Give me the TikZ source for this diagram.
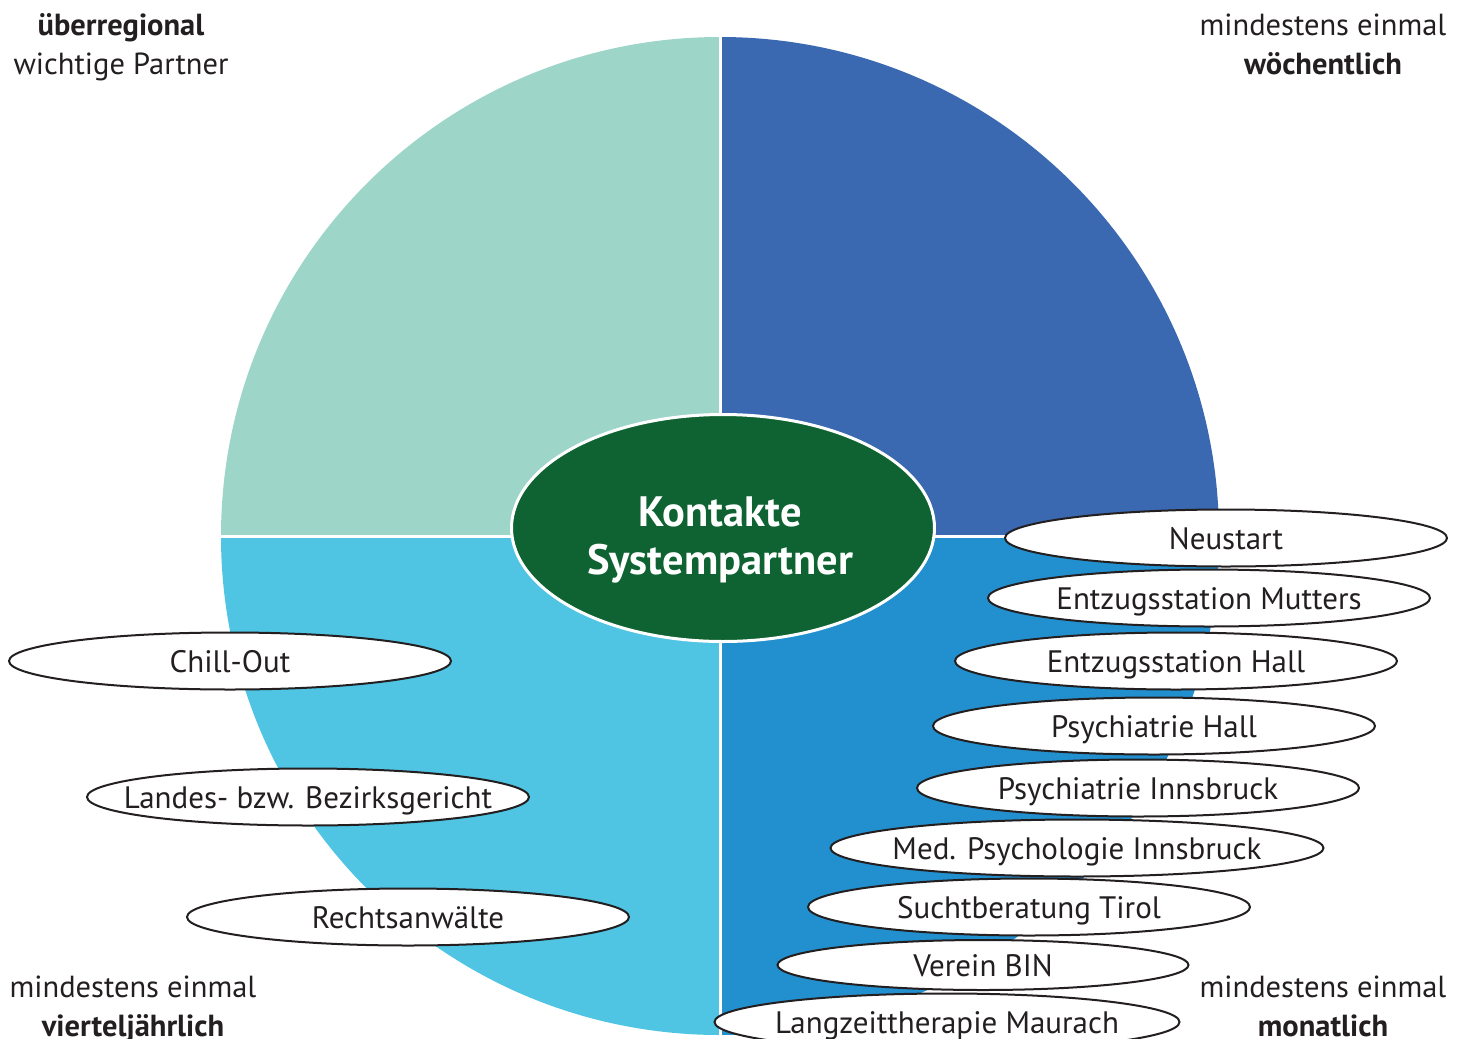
\documentclass[tikz,border=0pt]{standalone}
\usepackage{fontspec}
\setmainfont{PT Sans}
\usetikzlibrary{shapes.geometric}
\definecolor{qtl}{HTML}{9ED5C9}
\definecolor{qtr}{HTML}{3A69B1}
\definecolor{qbr}{HTML}{2290CE}
\definecolor{qbl}{HTML}{4FC4E3}
\definecolor{kgreen}{HTML}{0F6332}
\definecolor{ink}{HTML}{231F20}
\tikzset{
  partner/.style={ellipse, draw=ink, fill=white, line width=2pt, inner sep=0pt,
    minimum width=442pt, minimum height=57pt, text=ink,
    text height=26pt, text depth=4pt,
    font=\fontsize{31}{34}\selectfont},
  corner/.style={align=center, text=ink, font=\fontsize{30.5}{39}\selectfont, inner sep=0pt},
  divider/.style={white, line width=3pt}
}
\newcommand{\ptext}[1]{\makebox[0pt][c]{#1}}
\begin{document}
\begin{tikzpicture}[x=1pt,y=-1pt]
\useasboundingbox (0,0) rectangle (1468,1039);
\clip (0,0) rectangle (1468,1039);
\begin{scope}
  \clip (720,536) circle[radius=499];
  \fill[qtl] (720,536) rectangle (200,20);
  \fill[qtr] (720,536) rectangle (1240,20);
  \fill[qbr] (720,536) rectangle (1240,1060);
  \fill[qbl] (720,536) rectangle (200,1060);
\end{scope}
\draw[divider] (720,37) -- (720,1039);
\draw[divider] (221,536) -- (1219,536);
\node[ellipse, fill=kgreen, draw=white, line width=3pt, minimum width=423pt, minimum height=227pt,
  inner sep=0pt] (center) at (723,528) {};
\node[align=center, text=white, font=\fontsize{42.5}{48}\selectfont\bfseries, inner sep=0pt]
  (title) at (720,540) {Kontakte\\Systempartner};
% right side partners
\node[partner] (neu) at (1226,538) {\ptext{Neustart}};
\node[partner] (mut) at (1209,598) {\ptext{Entzugsstation Mutters}};
\node[partner] (ehall) at (1176,661) {\ptext{Entzugsstation Hall}};
\node[partner] (phall) at (1154,726) {\ptext{Psychiatrie Hall}};
\node[partner] (pinn) at (1138,788) {\ptext{Psychiatrie Innsbruck}};
\node[partner, minimum width=493pt] (med) at (1077,848) {\ptext{Med. Psychologie Innsbruck}};
\node[partner] (such) at (1029,907) {\ptext{Suchtberatung Tirol}};
\node[partner, minimum width=411pt, minimum height=50pt] (bin) at (983,965) {\ptext{Verein BIN}};
\node[partner, minimum width=465pt] (lang) at (947,1022) {\ptext{Langzeittherapie Maurach}};
% left side partners
\node[partner] (chill) at (230,661) {\ptext{Chill-Out}};
\node[partner] (lg) at (308,797) {\ptext{Landes- bzw. Bezirksgericht}};
\node[partner] (ra) at (408,917) {\ptext{Rechtsanwälte}};
% corner labels
\node[corner] (tl) at (121,47) {\textbf{überregional}\\wichtige Partner};
\node[corner] (tr) at (1323,44) {mindestens einmal\\\textbf{wöchentlich}};
\node[corner] (bl) at (133,1009) {mindestens einmal\\\textbf{vierteljährlich}};
\node[corner] (br) at (1323,1006) {mindestens einmal\\\textbf{monatlich}};
\end{tikzpicture}
\end{document}
